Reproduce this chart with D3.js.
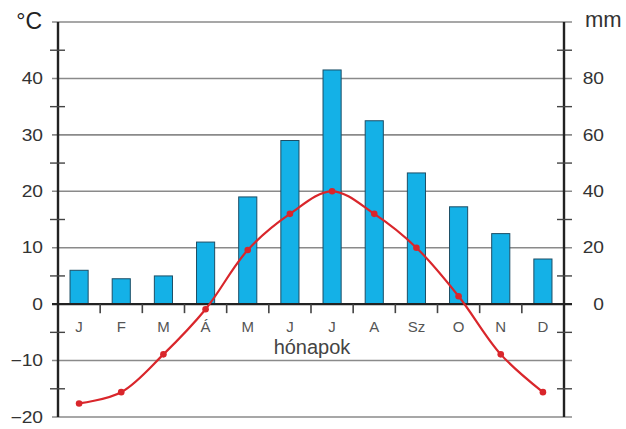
<!DOCTYPE html>
<html><head><meta charset="utf-8">
<script src="https://cdn.jsdelivr.net/npm/d3@7"></script>
<style>html,body{margin:0;padding:0;background:#fff;}svg{display:block;font-family:"Liberation Sans",Arial,sans-serif;}</style>
</head><body>
<svg id="c" width="626" height="429"></svg>
<script>
const months = ["J","F","M","Á","M","J","J","A","Sz","O","N","D"];
const precip = [12, 9, 10, 22, 38, 58, 83, 65, 46.5, 34.5, 25, 16];
const temp = [-17.6, -15.6, -8.9, -0.9, 9.6, 16, 20, 16, 10, 1.4, -8.9, -15.6];
const tempTicks = [-20, -10, 0, 10, 20, 30, 40];
const precipTicks = [0, 20, 40, 60, 80];
const gridVals = [-20, -10, 10, 20, 30, 40, 50];
const minorVals = [-15, -5, 5, 15, 25, 35, 45];

(function () {
const svg = d3.select("#c");
const pL = 58, pR = 564, pT = 22, pB = 417;
const idx = d3.range(months.length);
const x = d3.scaleBand().domain(idx).range([pL, pR]).paddingInner(0.57).paddingOuter(0.285);
const y = d3.scaleLinear().domain([-20, 50]).range([pB, pT]);
const yR = d3.scaleLinear().domain([-40, 100]).range([pB, pT]);
const cx = i => x(i) + x.bandwidth() / 2;

// gridlines
svg.append("g").selectAll("line").data(gridVals).join("line")
  .attr("x1", pL - 6).attr("x2", pR + 8)
  .attr("y1", d => y(d)).attr("y2", d => y(d))
  .attr("stroke", "#8a8a8a").attr("stroke-width", 1.6);

// bars
svg.append("g").selectAll("rect").data(precip).join("rect")
  .attr("x", (d, i) => x(i)).attr("width", x.bandwidth())
  .attr("y", d => yR(d)).attr("height", d => yR(0) - yR(d))
  .attr("fill", "#14b1e7").attr("stroke", "#1d4e66").attr("stroke-width", 1);

// x axis line
svg.append("line").attr("x1", pL - 6).attr("x2", pR + 8)
  .attr("y1", y(0)).attr("y2", y(0)).attr("stroke", "#222").attr("stroke-width", 2.2);

// month boundary ticks
svg.append("g").selectAll("line").data(d3.range(1, 12)).join("line")
  .attr("x1", i => x(i) - x.step() * x.paddingInner() / 2)
  .attr("x2", i => x(i) - x.step() * x.paddingInner() / 2)
  .attr("y1", y(0)).attr("y2", y(0) + 9)
  .attr("stroke", "#444").attr("stroke-width", 1.6);

// vertical axes
[pL, pR].forEach(xx => {
  svg.append("line").attr("x1", xx).attr("x2", xx).attr("y1", pT).attr("y2", pB)
    .attr("stroke", "#222").attr("stroke-width", 2.4);
});
// minor ticks
svg.append("g").selectAll("line").data(minorVals).join("line")
  .attr("x1", pL - 8).attr("x2", pL + 7)
  .attr("y1", d => y(d)).attr("y2", d => y(d)).attr("stroke", "#444").attr("stroke-width", 1.4);
svg.append("g").selectAll("line").data(minorVals).join("line")
  .attr("x1", pR - 7).attr("x2", pR + 8)
  .attr("y1", d => y(d)).attr("y2", d => y(d)).attr("stroke", "#444").attr("stroke-width", 1.4);

// left tick labels (slightly stretched horizontally like the original)
svg.append("g").selectAll("text").data(tempTicks).join("text")
  .attr("transform", d => `translate(43,${y(d)}) scale(1.2,1)`)
  .attr("dy", "0.36em")
  .attr("text-anchor", "end").attr("font-size", 16).attr("fill", "#333")
  .text(d => d < 0 ? "\u2212" + Math.abs(d) : d);
// right tick labels
svg.append("g").selectAll("text").data(precipTicks).join("text")
  .attr("transform", d => `translate(604,${yR(d)}) scale(1.2,1)`)
  .attr("dy", "0.36em")
  .attr("text-anchor", "end").attr("font-size", 16).attr("fill", "#333")
  .text(d => d);

svg.append("text").attr("x", 42).attr("y", 29).attr("text-anchor", "end")
  .attr("font-size", 23).attr("fill", "#222").text("°C");
svg.append("text").attr("x", 585).attr("y", 27).attr("text-anchor", "start")
  .attr("font-size", 22).attr("fill", "#333").text("mm");

// month labels
svg.append("g").selectAll("text").data(months).join("text")
  .attr("x", (d, i) => cx(i)).attr("y", 332).attr("text-anchor", "middle")
  .attr("font-size", 15).attr("fill", "#555").text(d => d);
svg.append("text").attr("x", 312).attr("y", 354).attr("text-anchor", "middle")
  .attr("font-size", 20).attr("fill", "#444").text("hónapok");

// temperature line
const line = d3.line().x((d, i) => cx(i)).y(d => y(d)).curve(d3.curveCatmullRom.alpha(0.5));
svg.append("path").datum(temp).attr("d", line).attr("fill", "none")
  .attr("stroke", "#d9262b").attr("stroke-width", 2.2);
svg.append("g").selectAll("circle").data(temp).join("circle")
  .attr("cx", (d, i) => cx(i)).attr("cy", d => y(d)).attr("r", 3.3).attr("fill", "#d9262b");
})();
</script>
</body></html>
